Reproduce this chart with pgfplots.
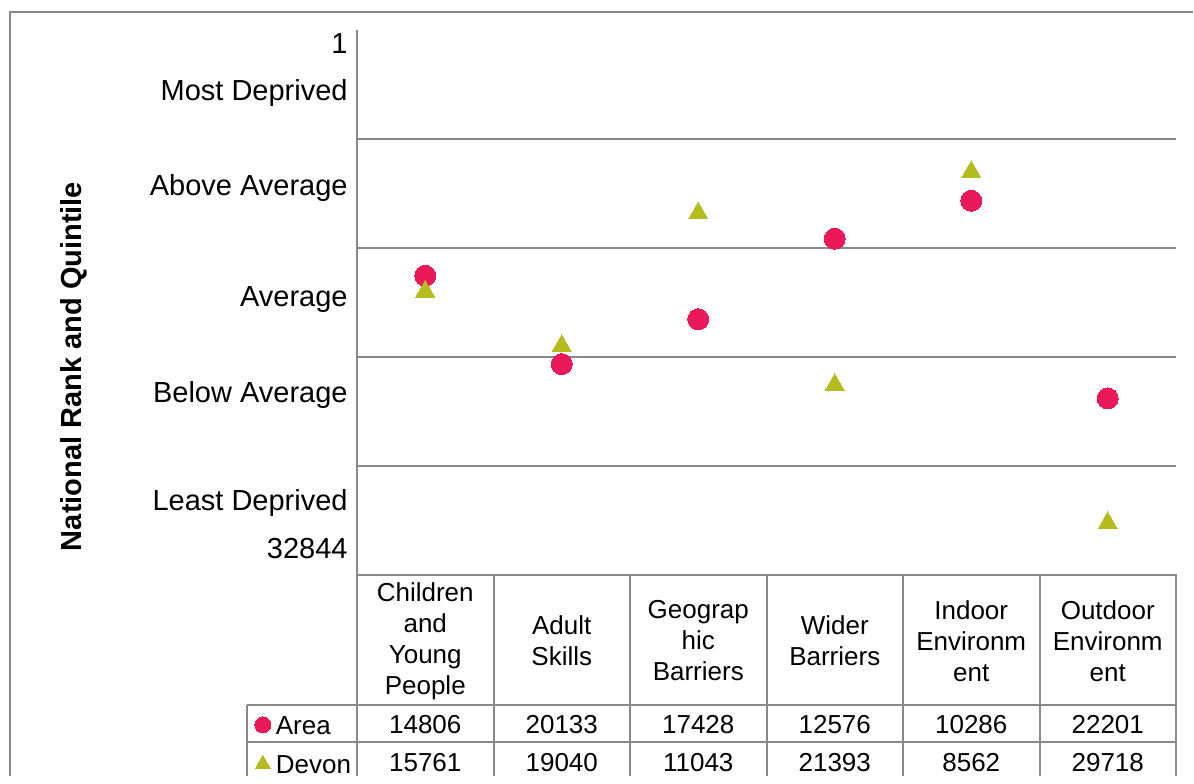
\documentclass[border=0pt]{standalone}
\usepackage{fontspec}
\setmainfont{Liberation Sans}
\usepackage{pgfplots}
\pgfplotsset{compat=1.18}

\definecolor{areapink}{RGB}{233,25,90}
\definecolor{devongreen}{RGB}{180,188,30}
\definecolor{gridgray}{RGB}{137,137,137}

\pgfplotsset{
  small legend mark/.style={
    legend image code/.code={\draw[##1, mark size=#1] plot coordinates {(0pt,0pt)};}},
}
\newcommand{\tablefont}{\fontsize{13}{15.5}\selectfont}

\begin{document}
\fontsize{14.5}{15.5}\selectfont
\begin{tikzpicture}
% 1 px of the reference = 0.5pt
\begin{scope}[x=0.5pt,y=-0.5pt]
  \useasboundingbox (0,0) rectangle (1194,776);
  \draw[gridgray, line width=1.1pt] (10,776) -- (10,12) -- (1193,12);
\end{scope}

\begin{axis}[
    at={(178.5pt,-287.5pt)}, anchor=south west,
    scale only axis, width=409.5pt, height=272.5pt,
    xmin=0.5, xmax=6.5, ymin=1, ymax=32844,
    y dir=reverse,
    axis line style={draw=none},
    xtick=\empty,
    scaled y ticks=false,
    ytick={784,3617,9342,16031,21846,28325,31218},
    yticklabels={1,Most Deprived,Above Average,Average,Below Average,Least Deprived,32844},
    yticklabel style={anchor=base east, yshift=-5.2pt, inner xsep=4.5pt},
    major tick length=0pt,
    extra y ticks={6569.6,13138.2,19706.8,26275.4},
    extra y tick labels={},
    extra y tick style={grid=major, major tick length=0pt},
    major grid style={gridgray, line width=1pt},
    clip=false,
    legend style={at={(-0.12515,-0.23853)}, anchor=north west,
        draw=none, fill=none, inner sep=0pt, row sep=0pt, font=\tablefont,
        nodes={inner xsep=2.5pt, inner ysep=0pt, text height=14.5pt, text depth=5pt}},
    legend cell align=left,
]
\addplot[only marks, mark=*, mark size=5.25pt, color=areapink,
    mark options={draw=areapink, fill=areapink, line width=0pt},
    small legend mark=4pt]
    coordinates {(1,14806)(2,20133)(3,17428)(4,12576)(5,10286)(6,22201)};
\addlegendentry{Area}
\addplot[only marks, mark=triangle*, mark size=5.6pt, color=devongreen,
    mark options={draw=devongreen, fill=devongreen, line width=0pt},
    small legend mark=4.4pt]
    coordinates {(1,15761)(2,19040)(3,11043)(4,21393)(5,8562)(6,29718)};
\addlegendentry{Devon}
\end{axis}

\begin{scope}[x=0.5pt,y=-0.5pt]
  % axis title
  \node[rotate=90, anchor=base, font=\bfseries] at (81.5,366.5) {National Rank and Quintile};
  % data table frame
  \begin{scope}[gridgray, line width=1pt]
    \draw (357,30) -- (357,776);
    \draw (357,575) -- (1176,575) -- (1176,776);
    \foreach \xb in {493.5,630,766.5,903,1039.5}
      \draw (\xb,575) -- (\xb,776);
    \draw (247,705) -- (1176,705);
    \draw (247,742) -- (1176,742);
    \draw (247,705) -- (247,776);
  \end{scope}
  % header cells
  \foreach \xc/\lab in {425.25/{Children\\and\\Young\\People},
                        561.75/{Adult\\Skills},
                        698.25/{Geograp\\hic\\Barriers},
                        834.75/{Wider\\Barriers},
                        971.25/{Indoor\\Environm\\ent},
                        1107.75/{Outdoor\\Environm\\ent}}
    \node[align=center, inner sep=0pt, font=\tablefont] at (\xc,641) {\lab};
  % values
  \foreach \xc/\a/\d in {425.25/14806/15761, 561.75/20133/19040, 698.25/17428/11043,
                         834.75/12576/21393, 971.25/10286/8562, 1107.75/22201/29718} {
    \node[anchor=base, inner sep=0pt, font=\tablefont] at (\xc,733) {\a};
    \node[anchor=base, inner sep=0pt, font=\tablefont] at (\xc,771.5) {\d};
  }
\end{scope}
\end{tikzpicture}
\end{document}
